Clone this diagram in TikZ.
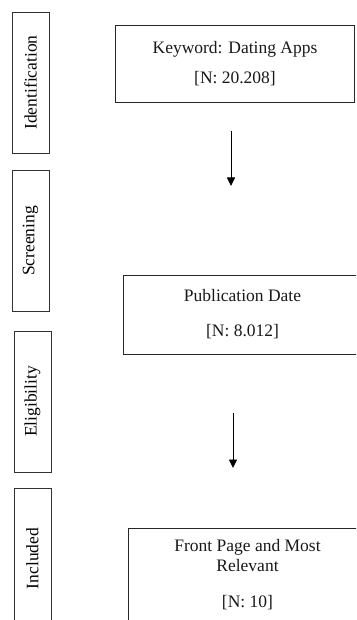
\documentclass[tikz,border=0pt]{standalone}
\usepackage{fontspec}
\setmainfont{Liberation Serif}
\usetikzlibrary{arrows.meta}
\tikzset{
  stagebox/.style={draw=black!80, line width=0.9pt, rotate=90, inner sep=0pt,
    minimum width=141pt, minimum height=37pt,
    font=\fontsize{17.5}{21}\selectfont},
  flowbox/.style={draw=black!85, line width=0.9pt, inner sep=0pt, align=center,
    minimum width=239pt, font=\fontsize{17.5}{20}\selectfont, text=black!90},
  flowarrow/.style={draw=black, line width=0.9pt,
    -{Triangle[length=8.5pt,width=8pt]}}
}
\begin{document}
\begin{tikzpicture}[x=1pt,y=-1pt]
  \useasboundingbox (0,0) rectangle (356,620);
  \fill[white] (0,0) rectangle (356,620);
  \clip (0,0) rectangle (356,620);

  % stage labels on the left
  \node[stagebox] (ident) at (30.5,82.5) {Identification};
  \node[stagebox] (screen) at (30.5,241) {Screening};
  \node[stagebox] (elig) at (32.5,401.5) {Eligibility};
  \node[stagebox] (incl) at (32.5,558.5) {Included};

  % flow boxes
  \node[flowbox, minimum height=77pt] (kw) at (235,63.5)
    {Keyword: Dating Apps\\[10pt][N: 20.208]};
  \node[flowbox, minimum height=79pt] (pub) at (242.5,314.5)
    {Publication Date\\[15pt][N: 8.012]};
  \node[flowbox, minimum height=94pt] (front) at (247.5,575)
    {Front Page and Most\\Relevant\\[16pt][N: 10]};

  % arrows
  \coordinate (a1s) at (231,131);
  \coordinate (a1e) at (231,186);
  \coordinate (a2s) at (233,413);
  \coordinate (a2e) at (233,468);
  \draw[flowarrow] (a1s) -- (a1e);
  \draw[flowarrow] (a2s) -- (a2e);
\end{tikzpicture}
\end{document}
